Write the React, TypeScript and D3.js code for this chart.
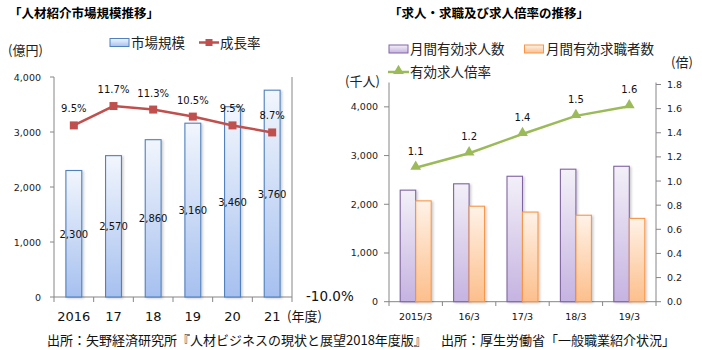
import * as d3 from "d3";

const marketYears = ["2016", "17", "18", "19", "20", "21"];
const marketSize = [2300, 2570, 2860, 3160, 3460, 3760];
const growthRate = [9.5, 11.7, 11.3, 10.5, 9.5, 8.7];
const marketTicks = [0, 1000, 2000, 3000, 4000];

const jobPeriods = ["2015/3", "16/3", "17/3", "18/3", "19/3"];
const jobOffers = [2290, 2420, 2575, 2720, 2780];
const jobSeekers = [2070, 1960, 1840, 1775, 1710];
const offerRatio = [1.11, 1.23, 1.39, 1.54, 1.62];
const jobTicks = [0, 1000, 2000, 3000, 4000];
const ratioTicks = [0, 0.2, 0.4, 0.6, 0.8, 1.0, 1.2, 1.4, 1.6, 1.8];

const JP = "'Noto Sans CJK JP', sans-serif";
const NUM = "'DejaVu Sans', Verdana, sans-serif";
const fmt = d3.format(",");

function LeftChart() {
  const x = d3.scaleBand<string>().domain(marketYears).range([54, 292]);
  const y = d3.scaleLinear().domain([0, 4000]).range([297, 77]);
  const yr = d3.scaleLinear().domain([-10, 15]).range([297, 77]);
  const bw = x.bandwidth() * 0.4;
  const cx = (d: string) => (x(d) || 0) + x.bandwidth() / 2;
  const line = d3
    .line<number>()
    .x((_, i) => cx(marketYears[i]))
    .y((d) => yr(d));

  return (
    <g>
      <text x={9} y={18} fontFamily={JP} fontWeight="bold" fontSize={12.5} fill="#000">
        「人材紹介市場規模推移」
      </text>
      {/* legend */}
      <rect x={110} y={38.5} width={19} height={8} fill="url(#gBlue)" stroke="#4f81bd" />
      <text x={131} y={47.5} fontFamily={JP} fontSize={13.5} fill="#222">市場規模</text>
      <line x1={199} x2={219} y1={42.5} y2={42.5} stroke="#c0504d" strokeWidth={2.5} />
      <rect x={205.5} y={39} width={7} height={7} fill="#c0504d" />
      <text x={220} y={47.5} fontFamily={JP} fontSize={13.5} fill="#222">成長率</text>
      <text x={8} y={55} fontFamily={JP} fontSize={13} fill="#222">(億円)</text>

      {/* axes */}
      <line x1={54} x2={54} y1={77} y2={297} stroke="#868686" />
      <line x1={292} x2={292} y1={77} y2={297} stroke="#868686" />
      <line x1={54} x2={292} y1={297} y2={297} stroke="#868686" />
      {marketTicks.map((t) => (
        <g key={t}>
          <line x1={50} x2={54} y1={y(t)} y2={y(t)} stroke="#868686" />
          <text x={41} y={y(t) + 3.5} textAnchor="end" fontFamily={NUM} fontSize={9.5} fill="#222">
            {fmt(t)}
          </text>
        </g>
      ))}
      {d3.range(marketYears.length + 1).map((i) => (
        <line key={i} x1={54 + i * x.step()} x2={54 + i * x.step()} y1={297} y2={302} stroke="#868686" />
      ))}
      {marketYears.map((d) => (
        <text key={d} x={cx(d)} y={321} textAnchor="middle" fontFamily={NUM} fontSize={13} fill="#111">
          {d}
        </text>
      ))}
      <text x={287} y={321} fontFamily={JP} fontSize={13} fill="#111">(年度)</text>
      <text x={306} y={301} fontFamily={NUM} fontSize={13.5} fill="#111">-10.0%</text>

      {/* bars */}
      {marketSize.map((v, i) => {
        const d = marketYears[i];
        return (
          <g key={d}>
            <rect
              x={cx(d) - bw / 2}
              y={y(v)}
              width={bw}
              height={y(0) - y(v)}
              fill="url(#gBlue)"
              stroke="#4f81bd"
              strokeWidth={1.1}
              filter="url(#shadow)"
            />
            <text x={cx(d)} y={y(v / 2) + 4} textAnchor="middle" fontFamily={NUM} fontSize={10} fill="#111">
              {fmt(v)}
            </text>
          </g>
        );
      })}

      {/* growth line */}
      <path d={line(growthRate) || ""} fill="none" stroke="#c0504d" strokeWidth={2.5} />
      {growthRate.map((v, i) => (
        <g key={i}>
          <rect x={cx(marketYears[i]) - 4} y={yr(v) - 4} width={8} height={8} fill="#c0504d" />
          <text x={cx(marketYears[i])} y={yr(v) - 13} textAnchor="middle" fontFamily={NUM} fontSize={10} fill="#111">
            {v.toFixed(1)}%
          </text>
        </g>
      ))}

      <text x={47} y={345} fontFamily={JP} fontSize={13} fill="#111">
        出所：矢野経済研究所『人材ビジネスの現状と展望2018年度版』
      </text>
    </g>
  );
}

function RightChart() {
  const x = d3.scaleBand<string>().domain(jobPeriods).range([389, 656]);
  const y = d3.scaleLinear().domain([0, 4500]).range([301.7, 82.5]);
  const yr = d3.scaleLinear().domain([0, 1.8]).range([301.7, 84.5]);
  const bw = 15.5;
  const cx = (d: string) => (x(d) || 0) + x.bandwidth() / 2;
  const line = d3
    .line<number>()
    .x((_, i) => cx(jobPeriods[i]))
    .y((d) => yr(d));
  const tri = d3.symbol().type(d3.symbolTriangle).size(50)();

  return (
    <g>
      <text x={389} y={18} fontFamily={JP} fontWeight="bold" fontSize={12.5} fill="#000">
        「求人・求職及び求人倍率の推移」
      </text>
      {/* legend */}
      <rect x={389} y={45} width={19} height={8} fill="url(#gPurple)" stroke="#8064a2" />
      <text x={410} y={54} fontFamily={JP} fontSize={13.5} fill="#222">月間有効求人数</text>
      <rect x={524.5} y={45} width={19} height={8} fill="url(#gOrange)" stroke="#f79646" />
      <text x={546} y={54} fontFamily={JP} fontSize={13.5} fill="#222">月間有効求職者数</text>
      <line x1={388} x2={409} y1={72} y2={72} stroke="#9bbb59" strokeWidth={2.5} />
      <path d={tri || ""} transform="translate(398.5,71)" fill="#9bbb59" />
      <text x={410} y={77} fontFamily={JP} fontSize={13.5} fill="#222">有効求人倍率</text>
      <text x={345} y={86} fontFamily={JP} fontSize={13} fill="#222">(千人)</text>
      <text x={671} y={67} fontFamily={JP} fontSize={13} fill="#222">(倍)</text>

      {/* axes */}
      <line x1={389} x2={389} y1={82.5} y2={301.7} stroke="#868686" />
      <line x1={656} x2={656} y1={82.5} y2={301.7} stroke="#868686" />
      <line x1={389} x2={656} y1={301.7} y2={301.7} stroke="#868686" />
      {jobTicks.map((t) => (
        <g key={t}>
          <line x1={384} x2={389} y1={y(t)} y2={y(t)} stroke="#868686" />
          <text x={378} y={y(t) + 3.5} textAnchor="end" fontFamily={NUM} fontSize={9.5} fill="#222">
            {fmt(t)}
          </text>
        </g>
      ))}
      {ratioTicks.map((t) => (
        <g key={t}>
          <line x1={656} x2={661} y1={yr(t)} y2={yr(t)} stroke="#868686" />
          <text x={667} y={yr(t) + 3.5} fontFamily={NUM} fontSize={9.5} fill="#222">
            {t.toFixed(1)}
          </text>
        </g>
      ))}
      {d3.range(jobPeriods.length + 1).map((i) => (
        <line key={i} x1={389 + i * x.step()} x2={389 + i * x.step()} y1={301.7} y2={306} stroke="#868686" />
      ))}
      {jobPeriods.map((d) => (
        <text key={d} x={cx(d)} y={320} textAnchor="middle" fontFamily={NUM} fontSize={9.5} fill="#111">
          {d}
        </text>
      ))}

      {/* bars */}
      {jobPeriods.map((d, i) => (
        <g key={d}>
          <rect
            x={cx(d) - bw}
            y={y(jobOffers[i])}
            width={bw}
            height={y(0) - y(jobOffers[i])}
            fill="url(#gPurple)"
            stroke="#8064a2"
            strokeWidth={1.1}
            filter="url(#shadow)"
          />
          <rect
            x={cx(d)}
            y={y(jobSeekers[i])}
            width={bw}
            height={y(0) - y(jobSeekers[i])}
            fill="url(#gOrange)"
            stroke="#f79646"
            strokeWidth={1.1}
            filter="url(#shadow)"
          />
        </g>
      ))}

      {/* ratio line */}
      <path d={line(offerRatio) || ""} fill="none" stroke="#9bbb59" strokeWidth={2.5} />
      {offerRatio.map((v, i) => (
        <g key={i}>
          <path d={tri || ""} transform={`translate(${cx(jobPeriods[i])},${yr(v) - 1})`} fill="#9bbb59" />
          <text x={cx(jobPeriods[i])} y={yr(v) - 13} textAnchor="middle" fontFamily={NUM} fontSize={10} fill="#111">
            {v.toFixed(1)}
          </text>
        </g>
      ))}

      <text x={441} y={345} fontFamily={JP} fontSize={13} fill="#111">
        出所：厚生労働省「一般職業紹介状況」
      </text>
    </g>
  );
}

export default function App() {
  return (
    <svg
      width={702}
      height={350}
      style={{ position: "absolute", left: 0, top: 0, background: "#fff" }}
    >
      <defs>
        <linearGradient id="gBlue" x1="0" y1="0" x2="0" y2="1">
          <stop offset="0%" stopColor="#f2f6fd" />
          <stop offset="100%" stopColor="#a6c0ef" />
        </linearGradient>
        <linearGradient id="gPurple" x1="0" y1="0" x2="0" y2="1">
          <stop offset="0%" stopColor="#f3f0f8" />
          <stop offset="100%" stopColor="#c5b3e1" />
        </linearGradient>
        <linearGradient id="gOrange" x1="0" y1="0" x2="0" y2="1">
          <stop offset="0%" stopColor="#fff2e8" />
          <stop offset="100%" stopColor="#fcbf8c" />
        </linearGradient>
        <filter id="shadow" x="-30%" y="-10%" width="160%" height="120%">
          <feDropShadow dx="1.5" dy="1" stdDeviation="1" floodColor="#000" floodOpacity="0.2" />
        </filter>
      </defs>
      <LeftChart />
      <RightChart />
    </svg>
  );
}
